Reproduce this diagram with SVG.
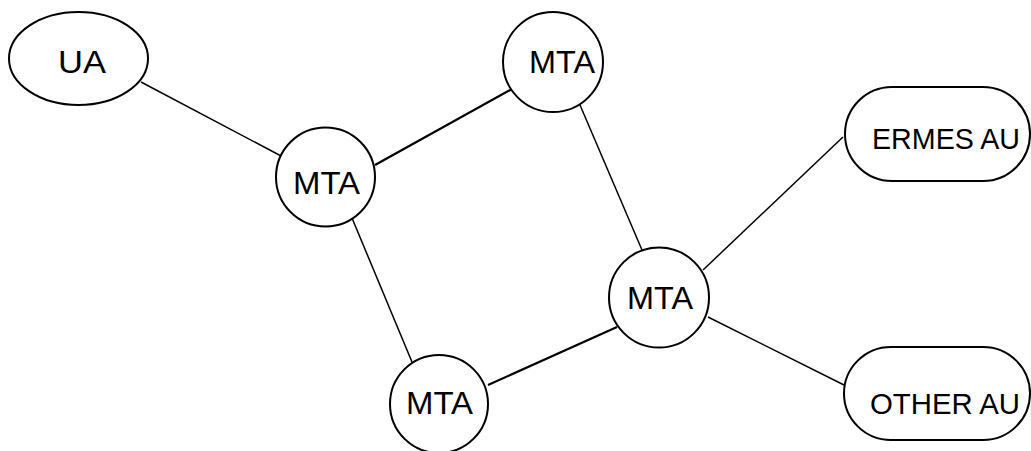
<svg xmlns="http://www.w3.org/2000/svg" width="1031" height="451" viewBox="0 0 1031 451">
<style>
.shape{fill:#fff;stroke:#000;stroke-width:2}
.lbl{font-family:"Liberation Sans",Arial,sans-serif;font-size:32px;fill:#000}
.au{font-size:30px}
.ln{stroke:#000;stroke-width:1.5;fill:none}
.lnb{stroke:#000;stroke-width:2.2;fill:none}
</style>
<rect width="1031" height="451" fill="#fff"/>
<g id="connectors">
<line class="ln" x1="141" y1="82" x2="283" y2="157"/>
<line class="lnb" x1="375" y1="165" x2="512" y2="89"/>
<line class="ln" x1="352" y1="218" x2="412" y2="362"/>
<line class="ln" x1="580" y1="105" x2="642" y2="250"/>
<line class="lnb" x1="488" y1="385" x2="617" y2="327"/>
<line class="ln" x1="703" y1="270" x2="843" y2="137"/>
<line class="ln" x1="708" y1="317" x2="844" y2="385"/>
</g>
<g id="ua">
<ellipse class="shape" cx="78.5" cy="58.5" rx="69.5" ry="46.5"/>
<text class="lbl" x="58" y="72.5" textLength="48" lengthAdjust="spacingAndGlyphs">UA</text>
</g>
<g id="mta1">
<circle class="shape" cx="325.5" cy="177" r="49.5"/>
<text class="lbl" x="293" y="193.5" textLength="67" lengthAdjust="spacingAndGlyphs">MTA</text>
</g>
<g id="mta-top">
<circle class="shape" cx="553" cy="62" r="50"/>
<text class="lbl" x="529" y="72.5" textLength="66" lengthAdjust="spacingAndGlyphs">MTA</text>
</g>
<g id="mta-right">
<circle class="shape" cx="659" cy="297.5" r="50"/>
<text class="lbl" x="627" y="309" textLength="66" lengthAdjust="spacingAndGlyphs">MTA</text>
</g>
<g id="mta-bottom">
<circle class="shape" cx="439" cy="404" r="49"/>
<text class="lbl" x="406" y="413.5" textLength="67" lengthAdjust="spacingAndGlyphs">MTA</text>
</g>
<g id="ermes-au">
<rect class="shape" x="845" y="87" width="185" height="94" rx="47" ry="47"/>
<text class="lbl au" x="872" y="148.5" textLength="148" lengthAdjust="spacingAndGlyphs">ERMES AU</text>
</g>
<g id="other-au">
<rect class="shape" x="844" y="347" width="186" height="93" rx="47" ry="46.5"/>
<text class="lbl au" x="870" y="413.5" textLength="150" lengthAdjust="spacingAndGlyphs">OTHER AU</text>
</g>
</svg>
